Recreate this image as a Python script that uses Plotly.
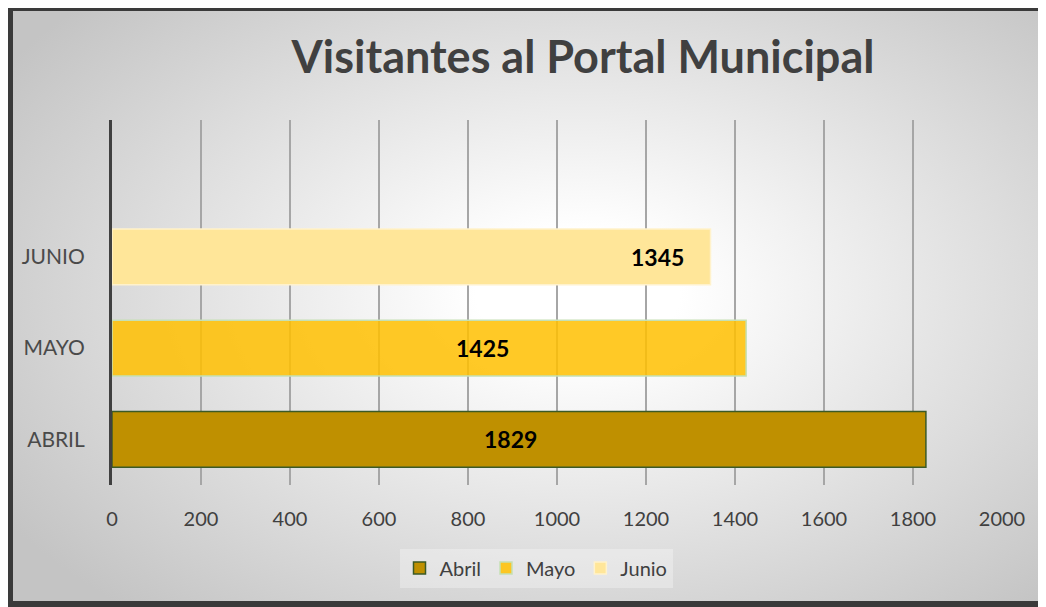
import base64
import plotly.graph_objects as go

# ---- data ----
categories = ["ABRIL", "MAYO", "JUNIO"]
series_names = ["Abril", "Mayo", "Junio"]
values = [1829, 1425, 1345]
x_ticks = [0, 200, 400, 600, 800, 1000, 1200, 1400, 1600, 1800, 2000]
title_text = "Visitantes al Portal Municipal"

# ---- styles ----
fill_colors = ["#BF9000", "rgba(255,192,0,0.85)", "#FFE699"]
line_colors = ["#3B5A26", "#C5E0B4", "#FFF2CC"]
label_shift = [-8, 53, -53]   # pixel nudges of data labels
label_frac = [0.5, 0.5, 1.0]   # anchor along the bar

# page has an 8px body margin, so the figure is sized to fit the window
W, H = 1038, 599
L, T = 104, 112
R, B = W - 994, H - 477
pw, ph = W - L - R, H - T - B

svg = f'''<svg xmlns="http://www.w3.org/2000/svg" width="{W}" height="{H}" viewBox="0 0 {W} {H}" preserveAspectRatio="none">
<defs>
<radialGradient id="g" gradientUnits="userSpaceOnUse" cx="570" cy="285" r="680"
 gradientTransform="translate(570 285) scale(1 0.62) translate(-570 -285)">
<stop offset="0" stop-color="#ffffff"/>
<stop offset="0.15" stop-color="#ffffff"/>
<stop offset="1" stop-color="#c4c4c4"/>
</radialGradient>
</defs>
<rect x="0" y="0" width="{W}" height="{H}" fill="url(#g)"/>
<rect x="0" y="0" width="5" height="{H}" fill="#3a3a3a"/>
<rect x="0" y="0" width="{W}" height="3" fill="#3a3a3a"/>
<rect x="0" y="{H-6}" width="{W}" height="6" fill="#3a3a3a"/>
</svg>'''
src = "data:image/svg+xml;base64," + base64.b64encode(svg.encode()).decode()

fig = go.Figure()
for i, (cat, name, v) in enumerate(zip(categories, series_names, values)):
    fig.add_trace(go.Bar(
        y=[cat], x=[v], name=name, orientation="h",
        marker=dict(color=fill_colors[i], line=dict(color=line_colors[i], width=1.5)),
        width=0.61, hoverinfo="x+name",
    ))
    fig.add_annotation(
        x=v * label_frac[i], y=cat, text=f"<b>{v}</b>", showarrow=False,
        xshift=label_shift[i], font=dict(family="Lato", size=23, color="#000000"),
    )

fig.update_layout(
    width=W, height=H,
    margin=dict(l=L, r=R, t=T, b=B, pad=0),
    paper_bgcolor="#ffffff", plot_bgcolor="rgba(0,0,0,0)",
    barmode="overlay",
    showlegend=True,
    legend=dict(orientation="h", x=(528 - L) / pw, xanchor="center",
                y=(477 - 560) / ph, yanchor="middle",
                font=dict(family="Lato", size=20, color="#404040"),
                bgcolor="rgba(255,255,255,0.3)", itemwidth=30,
                traceorder="normal"),
    title=dict(text=f"<b>{title_text}</b>", x=575 / W, xanchor="center",
               y=1 - 49 / H, yanchor="middle",
               font=dict(family="Lato", size=45, color="#404040")),
    images=[dict(source=src, xref="paper", yref="paper",
                 x=-L / pw, y=1 + T / ph, sizex=W / pw, sizey=H / ph,
                 xanchor="left", yanchor="top", sizing="stretch", layer="below")],
    font=dict(family="Lato", color="#404040"),
)
fig.update_xaxes(range=[0, 2000], tickvals=x_ticks, ticktext=[str(t) for t in x_ticks],
                 showgrid=True, gridcolor="#a6a6a6", gridwidth=1.5,
                 zeroline=False, showline=False, ticks="",
                 ticklabelstandoff=20,
                 tickfont=dict(family="Lato", size=20, color="#404040"), fixedrange=True)
fig.update_yaxes(type="category", categoryorder="array",
                 categoryarray=categories + [" "], range=[-0.5, 3.5],
                 showgrid=False, zeroline=False, showline=True,
                 linecolor="#404040", linewidth=3, ticks="",
                 ticklabelstandoff=20,
                 tickfont=dict(family="Lato", size=21, color="#4a4a4a"), fixedrange=True)

fig.write_html("out.html")
